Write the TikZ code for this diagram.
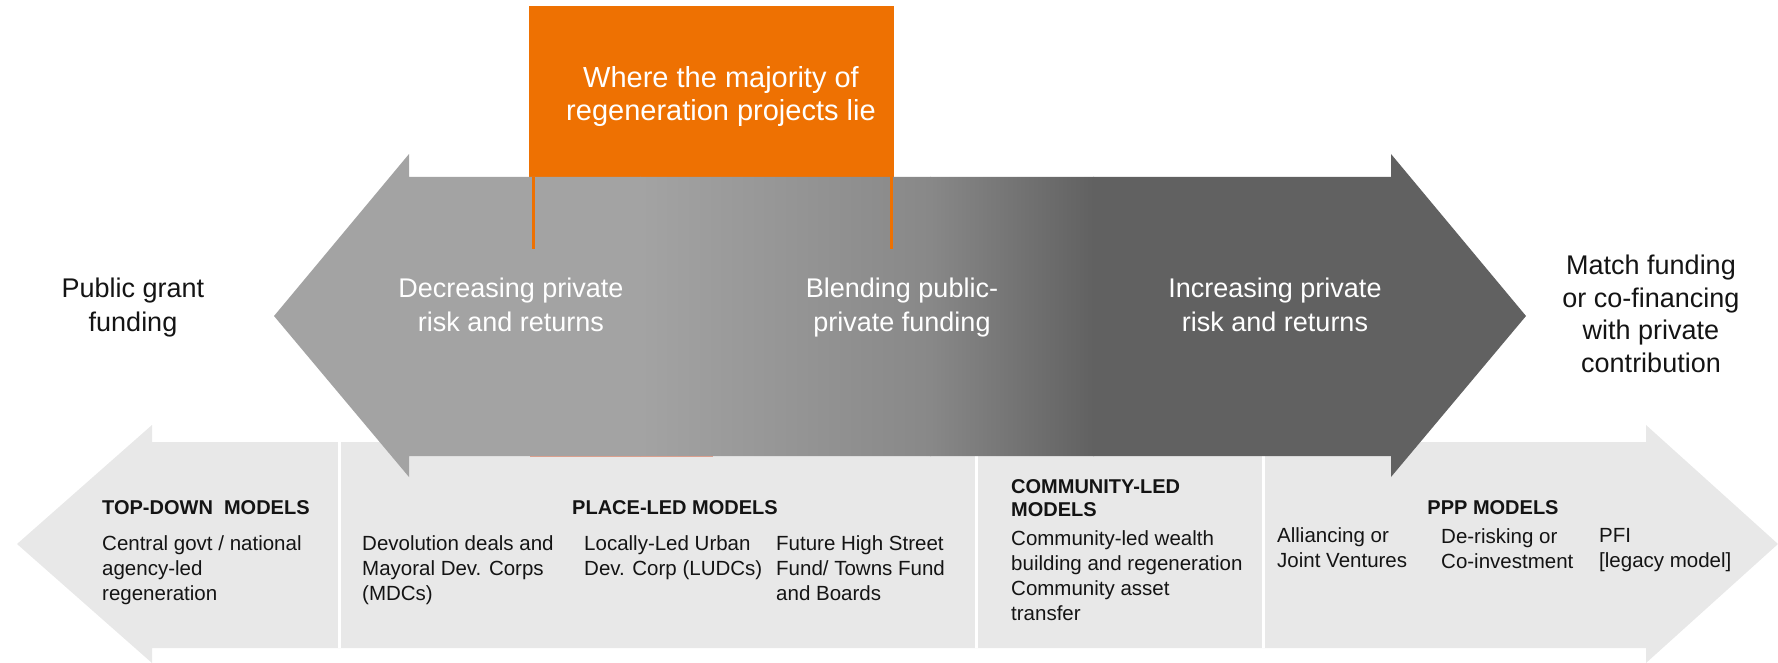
\documentclass[tikz,border=0pt]{standalone}
\usepackage{fontspec}
\setmainfont{Liberation Sans}
\definecolor{orng}{RGB}{238,113,2}
\definecolor{gLight}{RGB}{163,163,163}
\definecolor{gMid}{RGB}{136,136,136}
\definecolor{gDark}{RGB}{97,97,97}
\definecolor{band}{RGB}{232,232,232}
\definecolor{salmon}{RGB}{228,160,140}
\definecolor{txt}{RGB}{20,20,20}
\begin{document}
\begin{tikzpicture}[x=1pt,y=-1pt,
  bigtxt/.style={font=\fontsize{27}{33.5}\selectfont, align=center, inner sep=0pt, anchor=north},
  whitetxt/.style={bigtxt, text=white},
  sidetxt/.style={bigtxt, text=txt},
  smalltxt/.style={font=\fontsize{20.5}{25}\selectfont, align=left, inner sep=0pt, anchor=north west, text=txt},
  headtxt/.style={font=\bfseries\fontsize{20}{23.5}\selectfont, align=left, inner sep=0pt, anchor=north west, text=txt},
  sepline/.style={white, line width=3pt},
  orngline/.style={orng, line width=3pt}
]
\useasboundingbox (0,0) rectangle (1778,663);
% lower band double arrow
\fill[band] (17,544) -- (152,425) -- (152,442) -- (1646,442) -- (1646,425) -- (1778,544)
  -- (1646,663) -- (1646,648) -- (152,648) -- (152,663) -- cycle;
\draw[sepline] (339,442) -- (339,648);
\draw[sepline] (976,442) -- (976,648);
\draw[sepline] (1263,442) -- (1263,648);
% faint orange edge under the big arrow
\draw[salmon, line width=1.5pt] (530,456.5) -- (713,456.5);
% orange box
\node[fill=orng, minimum width=365pt, minimum height=171pt, inner sep=0pt] (majority) at (711.5,91.5) {};
\node[text=white, font=\fontsize{29}{33}\selectfont, align=center, inner sep=0pt] (majtxt) at (721,96.5)
      {Where the majority of\\regeneration projects lie};
% big gradient arrow
\begin{scope}
\clip (274,316) -- (409,154) -- (409,177) -- (1391,177) -- (1391,154) -- (1526,316)
  -- (1391,477) -- (1391,456) -- (409,456) -- (409,477) -- cycle;
\fill[gLight] (270,150) rectangle (641,480);
\shade[left color=gLight, right color=gMid] (640,150) rectangle (931,480);
\shade[left color=gMid, right color=gDark] (930,150) rectangle (1094,480);
\fill[gDark] (1093,150) rectangle (1530,480);
\end{scope}
\draw[orngline] ([xshift=5pt]majority.south west) -- ++(0,72);
\draw[orngline] ([xshift=-3pt]majority.south east) -- ++(0,72);
% texts on and beside the big arrow
\node[sidetxt] (public) at (133,278) {Public grant\\funding};
\node[whitetxt] (decr) at (511,278) {Decreasing private\\risk and returns};
\node[whitetxt] (blend) at (902,278) {Blending public-\\private funding};
\node[whitetxt] (incr) at (1275,278) {Increasing private\\risk and returns};
\node[sidetxt, font=\fontsize{27}{32.5}\selectfont] (match) at (1651,255) {Match funding\\or co-financing\\with private\\contribution};
% lower band texts
\node[headtxt] (tdhead) at (102,500) {TOP-DOWN~~MODELS};
\node[smalltxt] (td1) at (102,535) {Central govt / national\\agency-led\\regeneration};
\node[headtxt, anchor=north] (plhead) at (675,500) {PLACE-LED MODELS};
\node[smalltxt] (pl1) at (362,535) {Devolution deals and\\Mayoral Dev. Corps\\(MDCs)};
\node[smalltxt] (pl2) at (584,535) {Locally-Led Urban\\Dev. Corp (LUDCs)};
\node[smalltxt] (pl3) at (776,535) {Future High Street\\Fund/ Towns Fund\\and Boards};
\node[headtxt] (clhead) at (1011,479) {COMMUNITY-LED\\MODELS};
\node[smalltxt] (cl1) at (1011,530) {Community-led wealth\\building and regeneration\\Community asset\\transfer};
\node[headtxt, anchor=north] (ppphead) at (1493,500) {PPP MODELS};
\node[smalltxt] (ppp1) at (1277,527) {Alliancing or\\Joint Ventures};
\node[smalltxt] (ppp2) at (1441,528) {De-risking or\\Co-investment};
\node[smalltxt] (ppp3) at (1599,528) {PFI\\{[legacy model]}};
\end{tikzpicture}
\end{document}
